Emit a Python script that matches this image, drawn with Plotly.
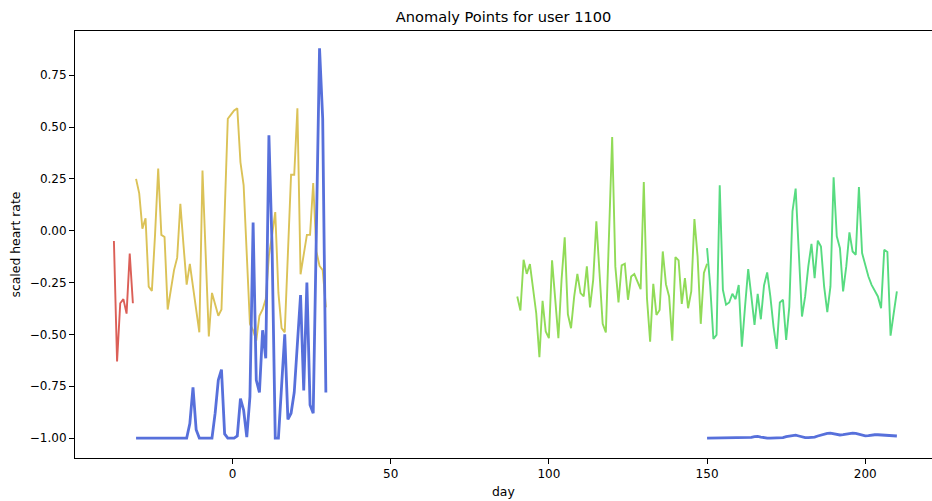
import numpy as np
import plotly.graph_objects as go

# Day offsets for each segment (consecutive days)
red_days = np.arange(-37.5, -31.0, 1.0)
early_days = np.arange(-30.5, 30.0, 1.0)
mid_days = np.arange(90, 151)
late_days = np.arange(150, 211)

red_vals = [-0.05, -0.63, -0.35, -0.33, -0.40, -0.11, -0.35]

yellow_vals = [
    0.25, 0.18, 0.01, 0.06, -0.27, -0.29, -0.02, 0.30, -0.02, -0.03,
    -0.38, -0.29, -0.19, -0.13, 0.13, -0.07, -0.26, -0.16, -0.27, -0.38,
    -0.49, 0.29, -0.10, -0.51, -0.30, -0.36, -0.41, -0.38, 0.08, 0.54,
    0.56, 0.58, 0.59, 0.33, 0.22, -0.11, -0.45, -0.48, -0.53, -0.41,
    -0.38, -0.33, -0.12, -0.02, 0.09, -0.30, -0.47, -0.49, -0.10, 0.27,
    0.27, 0.59, -0.21, -0.11, -0.02, -0.02, 0.23, -0.10, -0.17, -0.19,
    -0.37,
]

blue_early_vals = [
    -1.0, -1.0, -1.0, -1.0, -1.0, -1.0, -1.0, -1.0, -1.0, -1.0,
    -1.0, -1.0, -1.0, -1.0, -1.0, -1.0, -1.0, -0.93, -0.755, -0.96,
    -1.0, -1.0, -1.0, -1.0, -1.0, -0.88, -0.72, -0.67, -0.98, -1.0,
    -1.0, -1.0, -0.99, -0.81, -0.865, -0.995, -0.80, 0.04, -0.72, -0.78,
    -0.48, -0.615, 0.46, -0.08, -1.0, -1.0, -0.75, -0.50, -0.91, -0.88,
    -0.78, -0.55, -0.31, -0.77, -0.25, -0.84, -0.88, 0.0, 0.88, 0.54,
    -0.78,
]

lime_vals = [
    -0.317, -0.385, -0.14, -0.208, -0.161, -0.269, -0.398, -0.61, -0.338, -0.486,
    -0.518, -0.143, -0.333, -0.518, -0.237, -0.032, -0.403, -0.47, -0.317, -0.208,
    -0.301, -0.317, -0.172, -0.37, -0.237, 0.045, -0.204, -0.449, -0.491, -0.02,
    0.452, -0.172, -0.346, -0.167, -0.159, -0.333, -0.221, -0.209, -0.248, -0.282,
    0.235, -0.325, -0.535, -0.256, -0.406, -0.382, -0.10, -0.258, -0.317, -0.53,
    -0.127, -0.143, -0.353, -0.229, -0.374, -0.293, 0.056, -0.124, -0.449, -0.204,
    -0.159,
]

teal_vals = [
    -0.084, -0.269, -0.522, -0.502, 0.219, -0.285, -0.357, -0.346, -0.304, -0.330,
    -0.262, -0.559, -0.366, -0.185, -0.317, -0.454, -0.304, -0.427, -0.264, -0.201,
    -0.317, -0.462, -0.570, -0.346, -0.333, -0.527, -0.366, 0.093, 0.203, -0.084,
    -0.414, -0.317, -0.172, -0.063, -0.229, -0.048, -0.076, -0.269, -0.393, -0.269,
    0.258, -0.027, -0.084, -0.293, -0.172, -0.008, -0.10, -0.116, 0.211, -0.108,
    -0.164, -0.221, -0.261, -0.288, -0.317, -0.374, -0.092, -0.103, -0.506, -0.398,
    -0.293,
]

blue_late_vals = [
    -1.0, -1.0, -1.0, -1.0, -1.0, -1.0, -1.0, -1.0, -1.0, -1.0,
    -1.0, -1.0, -1.0, -1.0, -0.997, -0.993, -0.992, -0.995, -0.998, -1.0,
    -1.0, -1.0, -1.0, -1.0, -0.998, -0.993, -0.99, -0.987, -0.986, -0.99,
    -0.995, -0.998, -0.998, -0.998, -0.995, -0.99, -0.985, -0.98, -0.977, -0.976,
    -0.978, -0.983, -0.985, -0.983, -0.98, -0.977, -0.976, -0.977, -0.98, -0.985,
    -0.989, -0.988, -0.985, -0.984, -0.984, -0.985, -0.986, -0.987, -0.988, -0.989,
    -0.99,
]

x_ticks = [0, 50, 100, 150, 200]
y_ticks = [-1.0, -0.75, -0.5, -0.25, 0.0, 0.25, 0.5, 0.75]

RED, YELLOW, LIME, TEAL, BLUE = "#db5f57", "#dbc257", "#91db57", "#57db80", "#5770db"
FONT = "DejaVu Sans"

series = [
    (red_days, red_vals, RED, 1.9),
    (early_days, yellow_vals, YELLOW, 1.9),
    (early_days, blue_early_vals, BLUE, 2.8),
    (mid_days, lime_vals, LIME, 1.9),
    (late_days, teal_vals, TEAL, 1.9),
    (late_days, blue_late_vals, BLUE, 2.8),
]

fig = go.Figure()
for xs, ys, color, width in series:
    fig.add_trace(go.Scatter(
        x=xs, y=ys, mode="lines",
        line=dict(color=color, width=width),
        showlegend=False, hoverinfo="skip",
    ))

axis_common = dict(
    showgrid=False, zeroline=False, showline=True, linecolor="black",
    linewidth=1, ticks="outside", ticklen=5, tickcolor="black", tickwidth=1,
    tickfont=dict(family=FONT, size=12, color="black"),
)

fig.update_xaxes(
    range=[-49.8, 221.1], tickvals=x_ticks, mirror=True, **axis_common
)
fig.update_yaxes(
    range=[-1.096, 0.963], tickvals=y_ticks, tickformat=".2f", **axis_common
)

fig.update_layout(
    width=932, height=501,
    margin=dict(l=75, r=0, t=31, b=43),
    paper_bgcolor="white", plot_bgcolor="white",
    title=dict(
        text="Anomaly Points for user 1100",
        x=0.5403, xanchor="center", y=1 - 17 / 501, yanchor="middle",
        font=dict(family=FONT, size=14.6, color="black"),
    ),
    annotations=[
        dict(text="day", xref="paper", yref="paper", x=0.5, y=-33 / 427,
             xanchor="center", yanchor="middle", showarrow=False,
             font=dict(family=FONT, size=12.4, color="black")),
        dict(text="scaled heart rate", xref="paper", yref="paper",
             x=-60 / 857, y=0.5, textangle=-90, xanchor="center",
             yanchor="middle", showarrow=False,
             font=dict(family=FONT, size=12.4, color="black")),
    ],
)

fig.write_html("out.html")
